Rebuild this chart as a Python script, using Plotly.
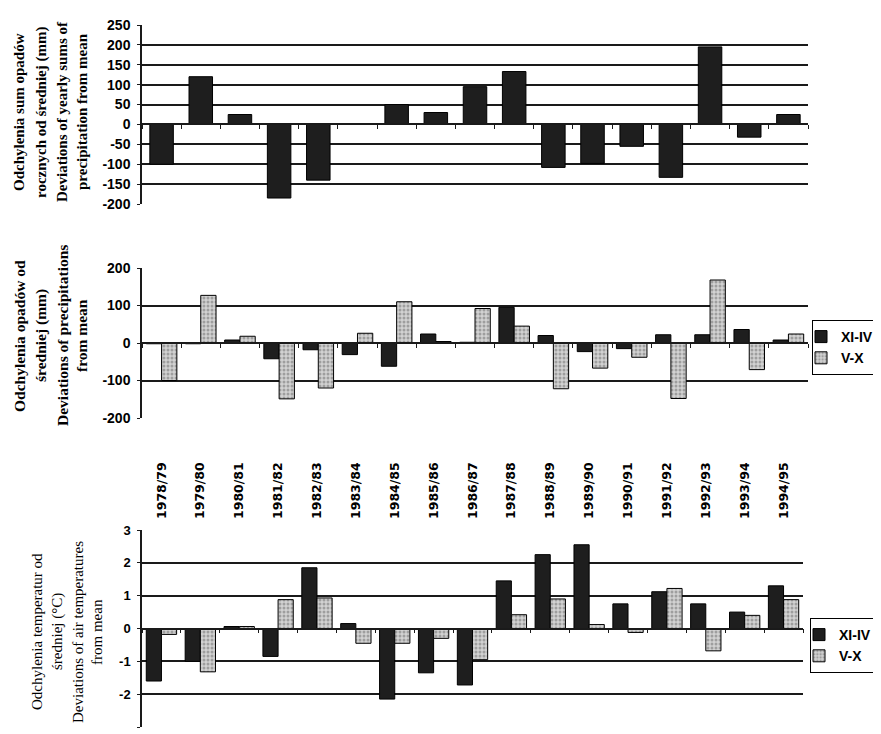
import plotly.graph_objects as go

# ---- data ----
seasons = ["1978/79", "1979/80", "1980/81", "1981/82", "1982/83", "1983/84",
           "1984/85", "1985/86", "1986/87", "1987/88", "1988/89", "1989/90",
           "1990/91", "1991/92", "1992/93", "1993/94", "1994/95"]

annual_precip = [-100, 120, 25, -185, -140, 0, 50, 30, 95, 133,
                 -108, -98, -55, -133, 195, -32, 25]

precip_xi_iv = [-2, -2, 8, -42, -18, -31, -62, 24, 2, 95,
                20, -23, -15, 22, 22, 36, 8]
precip_v_x = [-100, 127, 18, -149, -120, 26, 110, 4, 92, 45,
              -122, -67, -38, -148, 168, -71, 24]

temp_xi_iv = [-1.6, -1.0, 0.06, -0.85, 1.85, 0.15, -2.15, -1.35, -1.72, 1.45,
              2.25, 2.55, 0.75, 1.12, 0.75, 0.5, 1.3]
temp_v_x = [-0.18, -1.32, 0.06, 0.88, 0.93, -0.45, -0.45, -0.3, -0.95, 0.42,
            0.9, 0.12, -0.12, 1.22, -0.68, 0.4, 0.88]

y1_ticks = [-200, -150, -100, -50, 0, 50, 100, 150, 200, 250]
y2_ticks = [-200, -100, 0, 100, 200]
y3_ticks = [-3, -2, -1, 0, 1, 2, 3]

legend_names = ["XI-IV", "V-X"]

title1 = ["Odchylenia sum opadów", "rocznych od średniej (mm)",
          "Deviations of yearly sums of", "precipitation from mean"]
title2 = ["Odchylenia opadów od", "średniej (mm)",
          "Deviations of precipitations", "from mean"]
title3 = ["Odchylenia temperatur od", "średniej (°C)",
          "Deviations of air temperatures", "from mean"]

# ---- layout geometry (page body has an 8px margin) ----
OFF = 8
W, H = 881 - OFF, 734 - OFF
def px_x(p): return (p - OFF) / W
def px_y(p): return 1 - (p - OFF) / H

xdom = [px_x(142), px_x(808)]
xdom3 = [px_x(142), px_x(803)]
d1 = [px_y(204), px_y(25)]
d2 = [px_y(418), px_y(268)]
d3 = [px_y(727), px_y(530)]

def zero_pos(dom, rng):
    return dom[0] + (dom[1] - dom[0]) * (0 - rng[0]) / (rng[1] - rng[0])

r1 = [y1_ticks[0], y1_ticks[-1]]
r2 = [y2_ticks[0], y2_ticks[-1]]
r3 = [y3_ticks[0], y3_ticks[-1]]

DARK = "#1e1e1e"
LIGHT_BG = "#d2d2d2"
LIGHT_FG = "#6a6a6a"
LINE = "#1a1a1a"

fig = go.Figure()

# panel 1
fig.add_trace(go.Bar(x=seasons, y=annual_precip, width=0.6,
                     marker=dict(color=DARK, line=dict(color="black", width=1)),
                     xaxis="x", yaxis="y", showlegend=False))

light_marker = dict(color=LIGHT_BG, line=dict(color="black", width=1),
                    pattern=dict(shape=".", bgcolor=LIGHT_BG, fgcolor=LIGHT_FG,
                                 size=4, solidity=0.45))
dark_marker = dict(color=DARK, line=dict(color="black", width=1))

# panel 2
fig.add_trace(go.Bar(x=seasons, y=precip_xi_iv, name=legend_names[0],
                     marker=dark_marker, xaxis="x2", yaxis="y2", legend="legend"))
fig.add_trace(go.Bar(x=seasons, y=precip_v_x, name=legend_names[1],
                     marker=light_marker, xaxis="x2", yaxis="y2", legend="legend"))

# panel 3
fig.add_trace(go.Bar(x=seasons, y=temp_xi_iv, name=legend_names[0],
                     marker=dark_marker, xaxis="x3", yaxis="y3", legend="legend2"))
fig.add_trace(go.Bar(x=seasons, y=temp_v_x, name=legend_names[1],
                     marker=light_marker, xaxis="x3", yaxis="y3", legend="legend2"))

# invisible trace carrying the season labels above panel 3
fig.add_trace(go.Scatter(x=seasons, y=[0] * len(seasons), mode="markers",
                         marker=dict(opacity=0), hoverinfo="skip",
                         showlegend=False, xaxis="x4", yaxis="y3"))

tickfont = dict(family="Liberation Sans, Arial", size=14, color="black", weight="bold")

def xax(dom, pos):
    return dict(domain=dom, anchor="free", position=pos, type="category",
                categoryorder="array", categoryarray=seasons,
                range=[-0.5, len(seasons) - 0.5], automargin=False,
                showline=True, linecolor=LINE, linewidth=1.5,
                tickson="boundaries", ticks="outside", ticklen=4, tickcolor=LINE,
                showticklabels=False, showgrid=False, zeroline=False)

def yax(dom, rng, ticks, anchor, size):
    return dict(domain=dom, anchor=anchor, range=rng, tickvals=ticks,
                ticktext=[str(t) for t in ticks], automargin=False,
                tickfont=dict(tickfont, size=size),
                showgrid=True, gridcolor=LINE, gridwidth=1.5,
                showline=True, linecolor=LINE, linewidth=1.5,
                ticks="outside", ticklen=3, tickcolor=LINE,
                ticklabelstandoff=4, zeroline=False)

annotations = []
def add_title(lines, xs, yc, bold, size):
    for t, xp in zip(lines, xs):
        annotations.append(dict(
            text=t, x=px_x(xp), y=px_y(yc), xref="paper", yref="paper",
            textangle=-90, showarrow=False, xanchor="center", yanchor="middle",
            font=dict(family="Liberation Serif, Times New Roman", size=size,
                      color="black", weight="bold" if bold else "normal")))

add_title(title1, [19, 41, 62, 82], 112, True, 15)
add_title(title2, [19, 41, 62, 81], 336, True, 15.5)
add_title(title3, [37, 57, 78, 97], 632, False, 15)

legend_style = dict(bgcolor="white", bordercolor="black", borderwidth=1,
                    font=dict(family="Liberation Sans, Arial", size=14,
                              color="black", weight="bold"),
                    xanchor="left", yanchor="top", tracegroupgap=0,
                    itemwidth=30, indentation=-12, traceorder="normal")

fig.update_layout(
    width=W, height=H, margin=dict(l=0, r=0, t=0, b=0, autoexpand=False),
    paper_bgcolor="white", plot_bgcolor="white",
    barmode="group", bargap=0.22, bargroupgap=0.0,
    xaxis=xax(xdom, zero_pos(d1, r1)),
    yaxis=yax(d1, r1, y1_ticks, "x", 14),
    xaxis2=xax(xdom, zero_pos(d2, r2)),
    yaxis2=yax(d2, r2, y2_ticks, "x2", 14),
    xaxis3=xax(xdom3, zero_pos(d3, r3)),
    yaxis3=yax(d3, r3, y3_ticks, "x3", 13),
    xaxis4=dict(domain=xdom3, overlaying="x3", anchor="y3", side="top",
                type="category", categoryorder="array", categoryarray=seasons,
                range=[-0.5, len(seasons) - 0.5], tickangle=-90, automargin=False,
                showline=False, showgrid=False, zeroline=False, ticks="",
                ticklabelstandoff=10,
                tickfont=dict(family="DejaVu Sans", size=12.5, color="black",
                              weight="bold")),
    legend=dict(legend_style, x=px_x(812), y=px_y(320)),
    legend2=dict(legend_style, x=px_x(810), y=px_y(618)),
    annotations=annotations,
    showlegend=True,
)

fig.write_html("out.html")
